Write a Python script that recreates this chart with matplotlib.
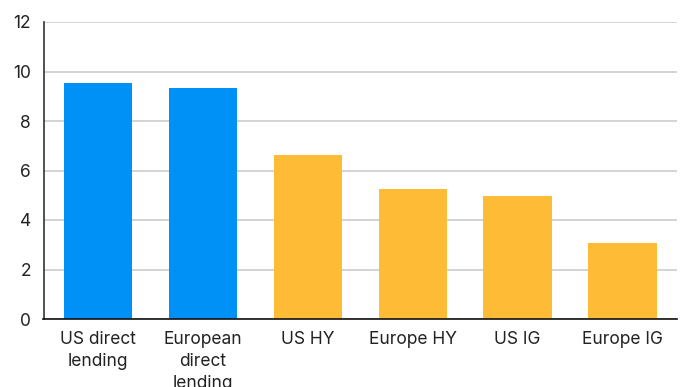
import matplotlib.pyplot as plt

categories = ["US direct\nlending", "European\ndirect\nlending", "US HY", "Europe HY", "US IG", "Europe IG"]
values = [9.54, 9.33, 6.63, 5.27, 4.96, 3.08]
colors = ["#0091F7", "#0091F7", "#FDBB36", "#FDBB36", "#FDBB36", "#FDBB36"]
yticks = [0, 2, 4, 6, 8, 10, 12]

plt.rcParams['font.family'] = ['Inter', 'DejaVu Sans']

fig = plt.figure(figsize=(6.84, 3.87), dpi=100)
ax = fig.add_axes([43.5 / 684, 1 - 319 / 387, (677 - 43.5) / 684, (319 - 22) / 387])

x = list(range(len(categories)))
ax.bar(x, values, width=0.65, color=colors, zorder=3)

ax.set_ylim(0, 12)
ax.set_xlim(-0.52, 5.52)
ax.set_yticks(yticks)
ax.set_xticks(x)
ax.set_xticklabels(categories, fontsize=12.5, color="#222222", linespacing=1.35)
ax.tick_params(axis="y", labelsize=12.5, labelcolor="#222222", length=0, pad=9)
ax.tick_params(axis="x", length=0, pad=9)

ax.grid(axis="y", color="#cccccc", linewidth=1.2, zorder=0)
for s in ["top", "right"]:
    ax.spines[s].set_visible(False)
ax.spines["left"].set_color("#333333")
ax.spines["left"].set_linewidth(1.2)
ax.spines["bottom"].set_color("#111111")
ax.spines["bottom"].set_linewidth(1.2)
ax.spines["bottom"].set_zorder(4)

fig.savefig("out.png", dpi=100)
